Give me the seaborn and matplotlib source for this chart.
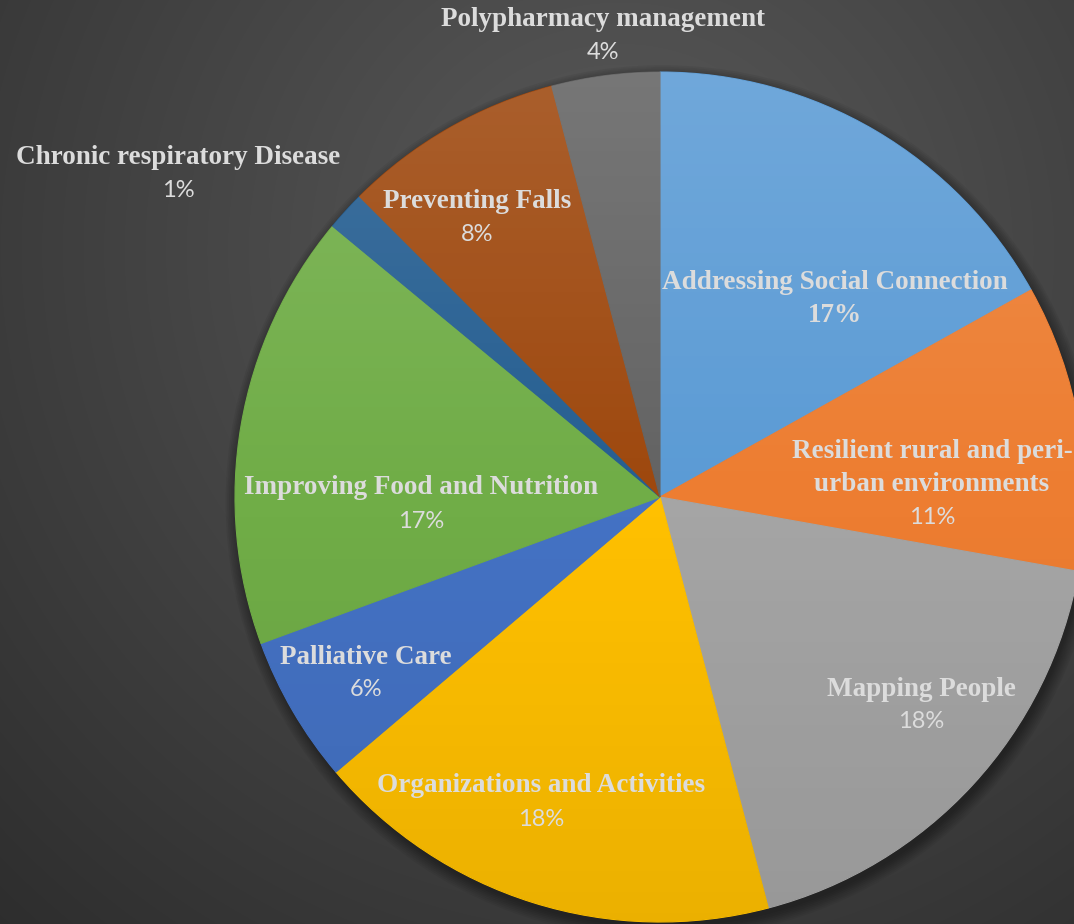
import numpy as np
import matplotlib
matplotlib.use("Agg")
import matplotlib.pyplot as plt
from matplotlib.patches import Circle
import seaborn as sns

# ---- data (clockwise from 12 o'clock) ----
categories = [
    "Addressing Social Connection",
    "Resilient rural and peri-\nurban environments",
    "Mapping People",
    "Organizations and Activities",
    "Palliative Care",
    "Improving Food and Nutrition",
    "Chronic respiratory Disease",
    "Preventing Falls",
    "Polypharmacy management",
]
shares = [16.9, 10.9, 18.1, 17.9, 5.6, 16.6, 1.5, 8.4, 4.1]
pct_labels = ["17%", "11%", "18%", "18%", "6%", "17%", "1%", "8%", "4%"]

colors = ["#5b9bd5", "#ed7d31", "#a5a5a5", "#ffc000", "#4472c4",
          "#70ad47", "#255e91", "#9e480e", "#636363"]

# label anchor positions in pixels (first line centre; layout only)
label_px = [(835, 283), (932, 452), (921, 689), (541, 786), (366, 657),
            (421, 488), (178, 158), (477, 202), (603, 20)]
pct_bold = [True, False, False, False, False, False, False, False, False]

W, H = 1074, 924
CX, CY, R = 660, 497, 425
LINE = 33

sns.set_style("dark")
fig = plt.figure(figsize=(W / 100, H / 100), dpi=100)
ax = fig.add_axes([0, 0, 1, 1])
xmin, xmax = -CX / R, (W - CX) / R
ymin, ymax = -(H - CY) / R, CY / R

# background radial gradient
yy, xx = np.mgrid[0:H, 0:W]
d = np.sqrt((xx - 620) ** 2 + (yy - 250) ** 2) / 950
d = np.clip(d, 0, 1)
c0 = np.array([0x5a, 0x5a, 0x5a]) / 255
c1 = np.array([0x2c, 0x2c, 0x2c]) / 255
bg = c0[None, None, :] * (1 - d[..., None]) + c1[None, None, :] * d[..., None]
ax.imshow(bg, extent=[xmin, xmax, ymin, ymax], origin="upper",
          aspect="auto", zorder=0)

# soft shadow
for k in range(8):
    ax.add_patch(Circle((0.006, -0.012), 1.0 + k * 0.004, color="black",
                        alpha=0.05, lw=0, zorder=1))

palette = sns.color_palette(colors)
wedges, _ = ax.pie(shares, colors=palette, startangle=90, counterclock=False,
                   radius=1.0, center=(0, 0), frame=True,
                   wedgeprops=dict(linewidth=0.8, zorder=2))
for w, c in zip(wedges, palette):
    w.set_edgecolor(c)
ax.set_xlim(xmin, xmax)
ax.set_ylim(ymin, ymax)
ax.set_aspect("auto")
ax.set_axis_off()

# vertical light/dark gradient over pie
n = 400
t = np.linspace(0, 1, n)  # 0 top -> 1 bottom
ov = np.zeros((n, 2, 4))
top_a = np.clip((0.5 - t) / 0.5, 0, 1) * 0.13
bot_a = np.clip((t - 0.5) / 0.5, 0, 1) * 0.08
ov[:, :, :3] = np.where((t < 0.5)[:, None, None], 1.0, 0.0)
ov[:, :, 3] = (top_a + bot_a)[:, None]
im = ax.imshow(ov, extent=[-1, 1, -1, 1], origin="upper", aspect="auto",
               zorder=3, interpolation="bilinear")
im.set_clip_path(Circle((0, 0), 1.0, transform=ax.transData))

txt_col = "#dcdcdc"
serif = ["Liberation Serif", "DejaVu Serif"]
sans = ["Lato", "DejaVu Sans"]
for cat, pct, (px, py), pb in zip(categories, pct_labels, label_px, pct_bold):
    lines = cat.split("\n")
    x = (px - CX) / R
    for i, ln in enumerate(lines):
        ax.text(x, (CY - (py + i * LINE)) / R, ln, ha="center", va="center",
                fontsize=19.5, fontweight="bold", family=serif,
                color=txt_col, zorder=5)
    y_pct = (CY - (py + len(lines) * LINE)) / R
    if pb:
        ax.text(x, y_pct, pct, ha="center", va="center", fontsize=19.5,
                fontweight="bold", family=serif, color=txt_col, zorder=5)
    else:
        ax.text(x, y_pct, pct, ha="center", va="center", fontsize=17,
                family=sans, color=txt_col, zorder=5)

fig.savefig("out.png", dpi=100)
